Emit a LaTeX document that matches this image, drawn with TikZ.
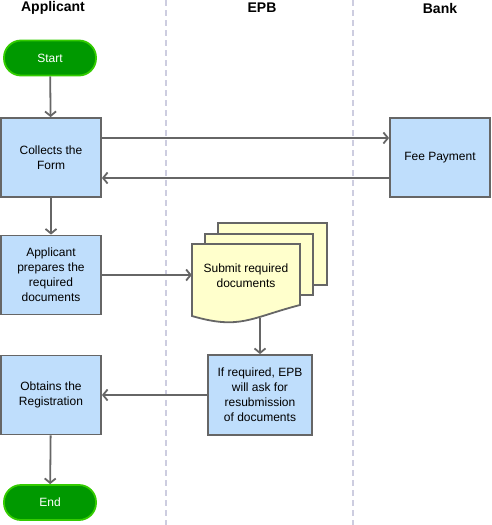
\documentclass[tikz,border=0pt]{standalone}
\usepackage{fontspec}
\setmainfont{Liberation Sans}
\usetikzlibrary{arrows,arrows.meta,positioning}
\definecolor{linegray}{HTML}{666666}
\definecolor{procblue}{HTML}{BFDEFC}
\definecolor{termgreen}{HTML}{009900}
\definecolor{termedge}{HTML}{33CC00}
\definecolor{docyellow}{HTML}{FFFFCC}
\definecolor{lanegray}{HTML}{CDCDE0}

\begin{document}
\begin{tikzpicture}[x=1pt,y=-1pt,
proc/.style={rectangle,draw=linegray,fill=procblue,line width=1.8pt,minimum width=100pt,
minimum height=79pt,inner sep=0pt,align=center,font=\fontsize{12}{15}\selectfont},
term/.style={rectangle,rounded corners=17pt,draw=termedge,fill=termgreen,text=white,
line width=1.8pt,minimum width=92pt,minimum height=35pt,font=\fontsize{12}{15}\selectfont},
sheet/.style={draw=linegray,fill=docyellow,line width=1.8pt},
head/.style={font=\fontsize{14}{16}\selectfont\bfseries},
lane/.style={draw=lanegray,line width=1.5pt,dash pattern=on 6pt off 4pt},
flow/.style={draw=linegray,line width=1.8pt,-{Straight Barb[length=4.5pt,width=11pt]}}]
\useasboundingbox (0,0) rectangle (491,525);
% swim lanes
\draw[lane] (166,0) -- (166,525);
\draw[lane] (353,0) -- (353,525);
\node[head] (happ) at (53,8) {Applicant};
\node[head] (hepb) at (262,8) {EPB};
\node[head] (hbank) at (440,8) {Bank};
% applicant lane
\node[term] (start) at (50,58) {Start};
\node[proc] (collect) at (51,157.5) {Collects the\\Form};
\node[proc] (prepare) [below=36.7pt of collect] {Applicant\\prepares the\\required\\documents};
\node[proc] (obtain) [below=39.2pt of prepare] {Obtains the\\Registration};
\node[term] (end) at (50,502.5) {End};
% bank lane
\node[proc] (fee) at (440,157.5) {Fee Payment};
% epb lane
\draw[sheet] (218,223) rectangle (327,285);
\draw[sheet] (205,234) rectangle (313,295);
\draw[sheet] (192,244) -- (300,244) -- (300,305)
.. controls (250,318) and (240,330) .. (192,316) -- cycle;
\node[minimum width=108pt,inner sep=0pt,align=center,font=\fontsize{12}{15}\selectfont]
(submit) at (246,276) {Submit required\\documents};
\coordinate (wave) at (260,318);
\node[proc,minimum width=104pt,minimum height=80pt] (resub) at (260,395)
{If required, EPB\\will ask for\\resubmission\\of documents};
% flows
\draw[flow] (start) -- (collect);
\draw[flow] ([yshift=19.5pt]collect.east) -- ([yshift=19.5pt]fee.west);
\draw[flow] ([yshift=-20.5pt]fee.west) -- ([yshift=-20.5pt]collect.east);
\draw[flow] (collect) -- (prepare);
\draw[flow] (prepare.east) -- (prepare.east -| submit.west);
\draw[flow] (wave) -- (resub);
\draw[flow] (resub.west) -- (resub.west -| obtain.east);
\draw[flow] (obtain) -- (end);
\end{tikzpicture}
\end{document}
